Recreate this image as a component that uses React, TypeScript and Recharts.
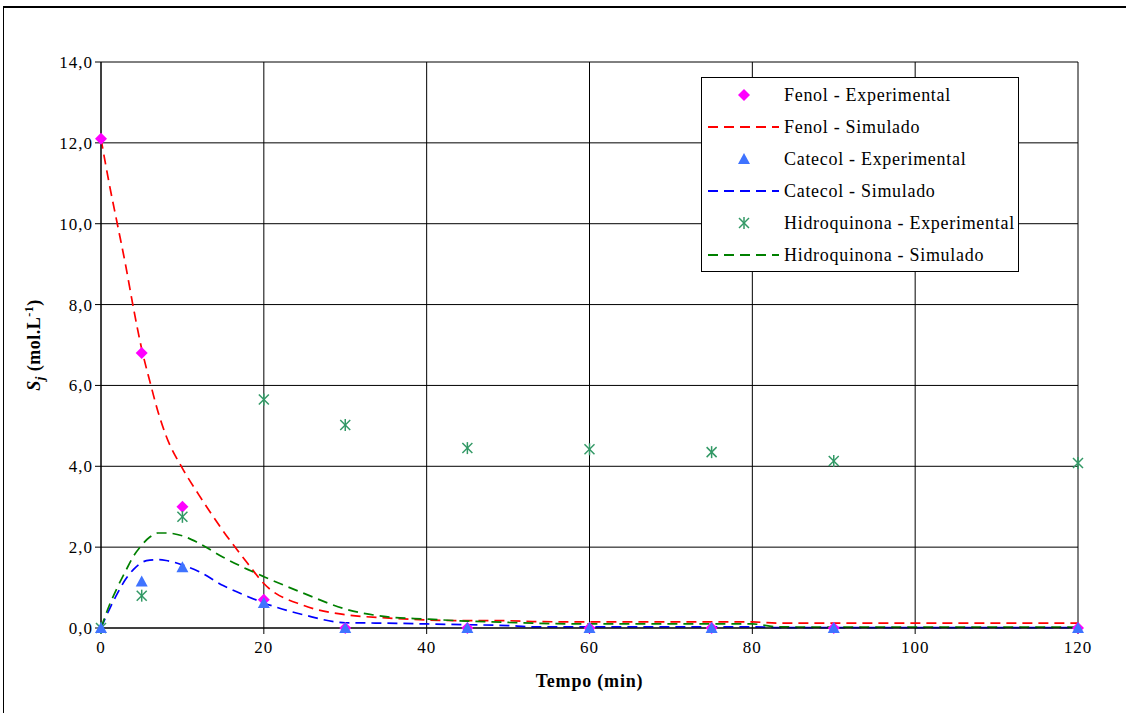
import { ComposedChart, Line, Scatter, XAxis, YAxis, CartesianGrid } from 'recharts'

// experimental sampling times (min)
const expTime = [0, 5, 10, 20, 30, 45, 60, 75, 90, 120]
const fenolExp = [12.1, 6.8, 3.0, 0.7, 0.0, 0.0, 0.0, 0.0, 0.0, 0.0]
const catecolExp = [0.0, 1.15, 1.5, 0.62, 0.0, 0.0, 0.0, 0.0, 0.0, 0.0]
const hidroExp = [0.0, 0.8, 2.75, 5.65, 5.02, 4.45, 4.42, 4.35, 4.13, 4.08]

// simulated curves
const simTime = [0, 1, 2, 3, 4, 5, 6, 7, 8, 10, 12, 15, 18, 20, 25, 30, 35, 40, 45, 50, 53, 60, 70, 80, 83, 90, 100, 110, 120]
const fenolSim = [12.1, 11.0, 10.0, 9.0, 7.9, 6.9, 6.1, 5.35, 4.75, 3.95, 3.3, 2.4, 1.6, 1.1, 0.55, 0.33, 0.25, 0.2, 0.18, 0.18, 0.16, 0.15, 0.15, 0.15, 0.12, 0.12, 0.12, 0.12, 0.12]
const catecolSim = [0.0, 0.45, 0.85, 1.2, 1.45, 1.62, 1.68, 1.69, 1.67, 1.56, 1.4, 1.05, 0.78, 0.62, 0.32, 0.13, 0.12, 0.1, 0.08, 0.06, 0.03, 0.03, 0.03, 0.03, 0.01, 0.01, 0.01, 0.01, 0.01]
const hidroSim = [0.0, 0.55, 1.0, 1.4, 1.78, 2.05, 2.25, 2.35, 2.35, 2.28, 2.1, 1.75, 1.45, 1.27, 0.85, 0.47, 0.28, 0.22, 0.17, 0.14, 0.12, 0.1, 0.1, 0.1, 0.03, 0.02, 0.02, 0.02, 0.02]

const xTicks = [0, 20, 40, 60, 80, 100, 120]
const yTicks = [0, 2, 4, 6, 8, 10, 12, 14]

const toPoints = (xs: number[], ys: number[]) => xs.map((x, i) => ({ x, y: ys[i] }))

const FONT = '"Liberation Serif", "Times New Roman", serif'

const XTick = (p: any) => (
  <text x={p.x} y={p.y + 17} textAnchor="middle" fontFamily={FONT} fontSize={17} letterSpacing={1} fill="#000">
    {p.payload.value}
  </text>
)

const YTick = (p: any) => (
  <text x={p.x} y={p.y + 6} textAnchor="end" fontFamily={FONT} fontSize={17} letterSpacing={1} fill="#000">
    {Number(p.payload.value).toFixed(1).replace('.', ',')}
  </text>
)

const Diamond = (p: any) => (
  <polygon
    points={`${p.cx},${p.cy - 6} ${p.cx + 6},${p.cy} ${p.cx},${p.cy + 6} ${p.cx - 6},${p.cy}`}
    fill="#FF00FF"
  />
)

const Triangle = (p: any) => (
  <polygon points={`${p.cx},${p.cy - 6} ${p.cx + 6},${p.cy + 5} ${p.cx - 6},${p.cy + 5}`} fill="#3F73FF" />
)

const Star = (p: any) => (
  <g stroke="#339966" strokeWidth={1.5}>
    <line x1={p.cx} y1={p.cy - 6} x2={p.cx} y2={p.cy + 6} />
    <line x1={p.cx - 5} y1={p.cy - 5} x2={p.cx + 5} y2={p.cy + 5} />
    <line x1={p.cx - 5} y1={p.cy + 5} x2={p.cx + 5} y2={p.cy - 5} />
  </g>
)

const legendRows = [
  { name: 'Fenol - Experimental', kind: 'diamond' },
  { name: 'Fenol - Simulado', kind: 'line', color: '#FF0000' },
  { name: 'Catecol - Experimental', kind: 'triangle' },
  { name: 'Catecol - Simulado', kind: 'line', color: '#0000FF' },
  { name: 'Hidroquinona - Experimental', kind: 'star' },
  { name: 'Hidroquinona - Simulado', kind: 'line', color: '#008000' },
]

function LegendBox() {
  return (
    <div
      style={{
        position: 'absolute',
        left: 701,
        top: 77,
        width: 318,
        height: 195,
        border: '1px solid #000',
        background: '#fff',
        boxSizing: 'border-box',
        fontFamily: FONT,
        fontSize: 18,
        letterSpacing: 0.7,
        color: '#000',
        paddingTop: 1,
      }}
    >
      {legendRows.map((r) => (
        <div key={r.name} style={{ height: 32, display: 'flex', alignItems: 'center' }}>
          <svg width={80} height={32} style={{ flex: 'none' }}>
            {r.kind === 'line' && (
              <line x1={6} y1={16} x2={77} y2={16} stroke={r.color} strokeWidth={2} strokeDasharray="10 6" />
            )}
            {r.kind === 'diamond' && <Diamond cx={42} cy={16} />}
            {r.kind === 'triangle' && <Triangle cx={42} cy={16} />}
            {r.kind === 'star' && <Star cx={42} cy={16} />}
          </svg>
          <span style={{ marginLeft: 2, whiteSpace: 'nowrap' }}>{r.name}</span>
        </div>
      ))}
    </div>
  )
}

const YLabel = () => (
  <text
    x={40}
    y={345}
    transform="rotate(-90 40 345)"
    textAnchor="middle"
    fontFamily={FONT}
    fontSize={18}
    fontWeight="bold"
    letterSpacing={0.5}
    fill="#000"
  >
    <tspan fontStyle="italic">S</tspan>
    <tspan fontStyle="italic" fontSize={13} dy={4}>j</tspan>
    <tspan dy={-4}> (mol.L</tspan>
    <tspan fontSize={12} dy={-7}>-1</tspan>
    <tspan dy={7}>)</tspan>
  </text>
)

export default function App() {
  return (
    <div
      style={{
        position: 'absolute',
        left: 0,
        top: 0,
        width: 1126,
        height: 713,
        background: '#fff',
        overflow: 'hidden',
        fontFamily: FONT,
      }}
    >
      <div
        style={{
          position: 'absolute',
          left: 3,
          top: 6,
          width: 1140,
          height: 720,
          borderTop: '2px solid #000',
          borderLeft: '1px solid #000',
        }}
      />
      <ComposedChart
        width={1126}
        height={713}
        margin={{ top: 62, right: 48, bottom: 55, left: 41 }}
        style={{ position: 'absolute', left: 0, top: 0, fontFamily: FONT }}
      >
        <CartesianGrid stroke="#000" strokeWidth={1} horizontalValues={yTicks} verticalValues={xTicks} />
        <XAxis
          dataKey="x"
          type="number"
          domain={[0, 120]}
          ticks={xTicks}
          interval={0}
          allowDuplicatedCategory={false}
          stroke="#000"
          tickSize={6}
          tick={<XTick />}
          label={{
            value: 'Tempo (min)',
            position: 'bottom',
            offset: 16,
            style: { fontFamily: FONT, fontSize: 18, fontWeight: 'bold', fill: '#000', letterSpacing: 0.8 },
          }}
        />
        <YAxis
          type="number"
          width={60}
          domain={[0, 14]}
          ticks={yTicks}
          interval={0}
          stroke="#000"
          tickSize={6}
          tick={<YTick />}
        />
        <Line data={toPoints(simTime, fenolSim)} dataKey="y" type="monotone" stroke="#FF0000" strokeWidth={1.7} strokeDasharray="10 6" dot={false} isAnimationActive={false} />
        <Line data={toPoints(simTime, catecolSim)} dataKey="y" type="monotone" stroke="#0000FF" strokeWidth={1.7} strokeDasharray="10 6" dot={false} isAnimationActive={false} />
        <Line data={toPoints(simTime, hidroSim)} dataKey="y" type="monotone" stroke="#008000" strokeWidth={1.7} strokeDasharray="10 6" dot={false} isAnimationActive={false} />
        <Scatter data={toPoints(expTime, fenolExp)} dataKey="y" shape={Diamond} isAnimationActive={false} />
        <Scatter data={toPoints(expTime, hidroExp)} dataKey="y" shape={Star} isAnimationActive={false} />
        <Scatter data={toPoints(expTime, catecolExp)} dataKey="y" shape={Triangle} isAnimationActive={false} />
        <YLabel />
      </ComposedChart>
      <LegendBox />
    </div>
  )
}
